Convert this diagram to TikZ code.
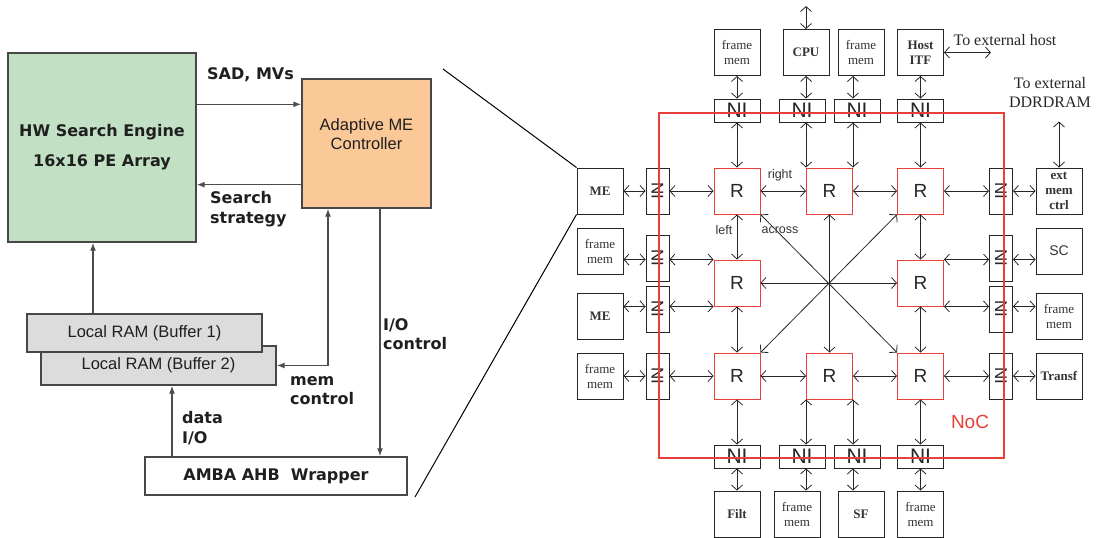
\documentclass[tikz,border=0pt]{standalone}
\usepackage{fontspec}
\setmainfont{Liberation Serif}
\setsansfont{Liberation Sans}
\newfontfamily\verdfont{DejaVu Sans}
\usetikzlibrary{positioning,arrows.meta,calc}
\definecolor{hwgreen}{RGB}{194,224,196}
\definecolor{ctlorange}{RGB}{251,200,152}
\definecolor{ramgray}{RGB}{220,220,220}
\definecolor{nocred}{RGB}{232,64,56}
\newcommand{\fs}[2]{\fontsize{#1}{#2}\selectfont}

\begin{document}
\begin{tikzpicture}[x=1pt, y=-1pt,
  lbox/.style={draw=black!72, line width=1.4pt, inner sep=0pt, align=center, text=black!88, fill=#1},
  lbox/.default=white,
  arr/.style={-{Latex[length=8pt,width=6pt]}, line width=1.4pt, draw=black!70},
  lab/.style={font=\verdfont\bfseries\fs{16}{20}, text=black!88, align=left, inner sep=0pt},
  blk/.style={draw=black!85, line width=0.9pt, minimum width=46pt, minimum height=46pt, inner sep=0pt,
              align=center, text=black!80, font=\fs{13}{15}},
  bblk/.style={blk, font=\bfseries\fs{13}{15}},
  ni/.style={draw=black!85, line width=0.9pt, minimum width=46pt, minimum height=23pt, inner sep=0pt,
             text=black!85, font=\sffamily\fs{21}{21}},
  vni/.style={ni, minimum width=23pt, minimum height=46pt, font=\sffamily\fs{17}{17}},
  rt/.style={blk, draw=nocred, text=black!85, font=\sffamily\fs{19}{19}},
  link/.style={{Straight Barb[length=5pt,width=11pt]}-{Straight Barb[length=5pt,width=11pt]}, line width=0.8pt, draw=black!85},
  tag/.style={font=\sffamily\fs{12.5}{14}, text=black!80, inner sep=0pt},
  note/.style={font=\fs{16}{19}, align=center, text=black!85, inner sep=0pt}]
\useasboundingbox (0,0) rectangle (1096,538);

\node[lbox=hwgreen, minimum width=188pt, minimum height=189pt, font=\verdfont\bfseries\fs{16}{20}] (hw) at (102,147.5) {HW Search Engine\\[10pt]16x16 PE Array};
\node[lbox=ctlorange, minimum width=129pt, minimum height=129pt, font=\sffamily\fs{16.5}{19}] (ctrl) at (366.5,143.5) {Adaptive ME\\Controller\\[0pt]\mbox{}};
\node[lbox=ramgray, minimum width=235pt, minimum height=39pt, font=\sffamily\fs{16.5}{19}] (buf2) at (158.5,365.5) {Local RAM (Buffer 2)};
\node[lbox=ramgray, minimum width=235pt, minimum height=38pt, font=\sffamily\fs{16.5}{19}] (buf1) at (144.5,333) {Local RAM (Buffer 1)};
\node[lbox, minimum width=262pt, minimum height=38pt, font=\verdfont\bfseries\fs{16}{20}] (amba) at (276,476) {AMBA AHB\ \ Wrapper};
\coordinate (sad) at ([yshift=-26pt]ctrl.north west);
\coordinate (strat) at ([yshift=24pt]ctrl.south west);
\coordinate (memc) at ([xshift=-38.5pt]ctrl.south);
\coordinate (ioc) at ([xshift=13.5pt]ctrl.south);
\coordinate (dio) at ([xshift=-104pt]amba.north);
\coordinate (bufup) at ([xshift=-9pt]hw.south);
\draw[arr] (sad -| hw.east) -- (sad);
\draw[arr] (strat) -- (strat -| hw.east);
\draw[arr] (bufup |- buf1.north) -- (bufup);
\draw[arr, {Latex[length=8pt,width=6pt]}-{Latex[length=8pt,width=6pt]}] (buf2.east) -| (memc);
\draw[arr] (ioc) -- (ioc |- amba.north);
\draw[arr] (dio) -- (dio |- buf2.south);
\node[lab, anchor=base west] (sadlab) at (207,79) {SAD, MVs};
\node[lab, anchor=north west] (stratlab) at (210,191) {Search\\strategy};
\node[lab, anchor=north west, font=\verdfont\bfseries\fs{16}{19.5}] (memlab) at (290,376) {mem\\control};
\node[lab, anchor=north west] (diolab) at (182,411) {data\\I/O};
\node[lab, anchor=north west, font=\verdfont\bfseries\fs{16}{19.5}] (ioclab) at (383,318) {I/O\\control};

\node[blk] (fmt1) at (737,52.5) {frame\\mem};
\node[bblk] (cpu) at (806,52.5) {CPU};
\node[blk] (fmt2) at (861,52.5) {frame\\mem};
\node[bblk] (host) at (920.5,52.5) {Host\\ITF};
\node[ni] (nit1) at (737,110.5) {NI};
\node[ni] (nit2) at (802,110.5) {NI};
\node[ni] (nit3) at (857,110.5) {NI};
\node[ni] (nit4) at (920.5,110.5) {NI};
\node[rt] (r11) at (737,191) {R};
\node[rt] (r12) at (829.5,191) {R};
\node[rt] (r13) at (920.5,191) {R};
\node[rt] (r21) at (737,283) {R};
\node[rt] (r23) at (920.5,283) {R};
\node[rt] (r31) at (737,376) {R};
\node[rt] (r32) at (829.5,376) {R};
\node[rt] (r33) at (920.5,376) {R};
\node[ni] (nib1) at (737,456.5) {NI};
\node[ni] (nib2) at (802,456.5) {NI};
\node[ni] (nib3) at (857,456.5) {NI};
\node[ni] (nib4) at (920.5,456.5) {NI};
\node[bblk] (filt) at (737,514) {Filt};
\node[blk] (fmb1) at (797,514) {frame\\mem};
\node[bblk] (sf) at (861,514) {SF};
\node[blk] (fmb2) at (920.5,514) {frame\\mem};
\node[bblk] (me1) at (600,191) {ME};
\node[blk] (fml1) at (600,251) {frame\\mem};
\node[bblk] (me2) at (600,316) {ME};
\node[blk] (fml2) at (600,376) {frame\\mem};
\node[bblk] (ext) at (1059,191) {ext\\mem\\ctrl};
\node[blk, font=\sffamily\fs{14}{15}] (sc) at (1059,251) {SC};
\node[blk] (fmr) at (1059,316) {frame\\mem};
\node[bblk] (transf) at (1059,376) {Transf};
\foreach \n/\y in {1/191,2/258,3/309,4/376} {
  \node[vni] (nil\n) at (657.5,\y) {\rotatebox{-90}{NI}};
  \node[vni] (nir\n) at (1001,\y) {\rotatebox{-90}{NI}};
}
\coordinate (cpuext) at ([yshift=23pt]cpu.north);
\coordinate (hostext) at ([xshift=47pt]host.east);
\coordinate (ddrext) at ([yshift=46pt]ext.north);

\draw[link] (fmt1) -- (nit1);
\draw[link] (nit1) -- (r11);
\draw[link] (cpu.south -| r12.north west) -- (nit2.north -| r12.north west);
\draw[link] (nit2.south -| r12.north west) -- (r12.north west);
\draw[link] (fmt2.south -| r12.north east) -- (nit3.north -| r12.north east);
\draw[link] (nit3.south -| r12.north east) -- (r12.north east);
\draw[link] (host) -- (nit4);
\draw[link] (nit4) -- (r13);
\draw[link] (cpu) -- (cpuext);
\draw[link] (host) -- (hostext);
\draw[link] (ext) -- (ddrext);
\draw[link] (me1) -- (nil1);
\draw[link] (nil1) -- (r11);
\draw[link] (r11) -- (r12);
\draw[link] (r12) -- (r13);
\draw[link] (r13) -- (nir1);
\draw[link] (nir1) -- (ext);
\draw[link] (r21.north west -| fml1.east) -- (r21.north west -| nil2.west);
\draw[link] (r21.north west -| nil2.east) -- (r21.north west);
\draw[link] (r21.south west -| me2.east) -- (r21.south west -| nil3.west);
\draw[link] (r21.south west -| nil3.east) -- (r21.south west);
\draw[link] (r23.north east) -- (r23.north east -| nir2.west);
\draw[link] (r23.north east -| nir2.east) -- (r23.north east -| sc.west);
\draw[link] (r23.south east) -- (r23.south east -| nir3.west);
\draw[link] (r23.south east -| nir3.east) -- (r23.south east -| fmr.west);
\draw[link] (fml2) -- (nil4);
\draw[link] (nil4) -- (r31);
\draw[link] (r31) -- (r32);
\draw[link] (r32) -- (r33);
\draw[link] (r33) -- (nir4);
\draw[link] (nir4) -- (transf);
\draw[link] (r11) -- (r21);
\draw[link] (r21) -- (r31);
\draw[link] (r13) -- (r23);
\draw[link] (r23) -- (r33);
\draw[link] (r12) -- (r32);
\draw[link] (r21) -- (r23);
\draw[link] (r11.south east) -- (r33.north west);
\draw[link] (r13.south west) -- (r31.north east);
\draw[link] (r31) -- (nib1);
\draw[link] (nib1) -- (filt);
\draw[link] (r32.south west) -- (r32.south west |- nib2.north);
\draw[link] (nib2.south -| r32.south west) -- (fmb1.north -| r32.south west);
\draw[link] (r32.south east) -- (r32.south east |- nib3.north);
\draw[link] (nib3.south -| r32.south east) -- (sf.north -| r32.south east);
\draw[link] (r33) -- (nib4);
\draw[link] (nib4) -- (fmb2);

\node[draw=nocred, line width=1.1pt, minimum width=345pt, minimum height=345pt] (noc) at (831.5,285.5) {};
\node[font=\sffamily\fs{19}{19}, text=nocred] (noclab) at (970,422) {NoC};
\node[tag] (rightlab) at (780,175) {right};
\node[tag] (leftlab) at (724,230) {left};
\node[tag] (acrosslab) at (780,230) {across};
\node[note] (hostnote) at (1005,40) {To external host};
\node[note] (ddrnote) at (1050,92) {To external\\DDRDRAM};
\coordinate (zt) at (443,69);
\coordinate (zb) at (415,497);
\draw[line width=1pt] (zt) -- (me1.north west);
\draw[line width=1pt] (zb) -- (me1.south west);
\end{tikzpicture}
\end{document}
